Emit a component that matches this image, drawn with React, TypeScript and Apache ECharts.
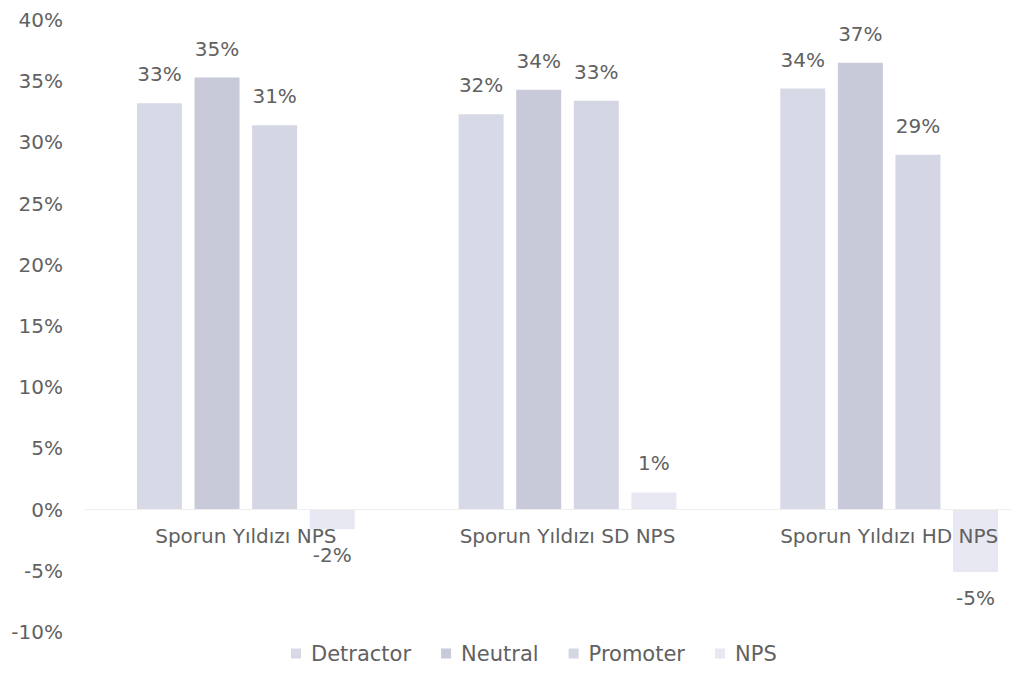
import React, { useEffect, useRef } from "react";
import * as echarts from "echarts";

const categories = ["Sporun Yıldızı NPS", "Sporun Yıldızı SD NPS", "Sporun Yıldızı HD NPS"];
const seriesNames = ["Detractor", "Neutral", "Promoter", "NPS"];
const detractor = [33.2, 32.3, 34.4];
const neutral = [35.3, 34.3, 36.5];
const promoter = [31.4, 33.4, 29.0];
const nps = [-1.6, 1.4, -5.1];
const yTicks = { min: -10, max: 40, interval: 5 };
const colors = ["#d8d9e6", "#c9cad9", "#d5d6e3", "#e8e8f3"];

const FONT = "DejaVu Sans";
const TEXT = "#616161";
const FS = 20;

export default function App() {
  const ref = useRef<HTMLDivElement>(null);
  useEffect(() => {
    if (!ref.current) return;
    const chart = echarts.init(ref.current, undefined, { renderer: "svg" });
    const values = [detractor, neutral, promoter, nps];
    chart.setOption({
      animation: false,
      textStyle: { fontFamily: FONT },
      grid: { left: 85, right: 0, top: 20, bottom: 66 },
      legend: {
        bottom: 29,
        left: 286,
        itemWidth: 10,
        itemHeight: 10,
        itemGap: 30,
        icon: "rect",
        textStyle: { color: TEXT, fontSize: 21, fontFamily: FONT, padding: [0, 0, 0, 5] },
        data: seriesNames,
      },
      xAxis: {
        type: "category",
        z: 10,
        data: categories,
        axisLine: { onZero: true, lineStyle: { color: "#efefef" } },
        axisTick: { show: false },
        axisLabel: { color: TEXT, fontSize: FS, margin: -106, fontFamily: FONT },
      },
      yAxis: {
        type: "value",
        min: yTicks.min,
        max: yTicks.max,
        interval: yTicks.interval,
        splitLine: { show: false },
        axisLine: { show: false },
        axisTick: { show: false },
        axisLabel: { color: TEXT, fontSize: FS, margin: 22, fontFamily: FONT, formatter: (v: number) => v + "%" },
      },
      series: seriesNames.map((name, i) => ({
        name,
        type: "bar",
        barWidth: 45,
        barGap: "28%",
        itemStyle: { color: colors[i] },
        data: values[i].map((v) => ({
          value: v,
          label: {
            show: true,
            position: v >= 0 ? "top" : "bottom",
            distance: v >= 0 ? 19 : 16,
            color: TEXT,
            fontSize: FS,
            fontFamily: FONT,
            formatter: () => Math.round(v) + "%",
          },
        })),
      })),
    });
    return () => chart.dispose();
  }, []);
  return (
    <div style={{ position: "absolute", left: 0, top: 0, width: 1011, height: 698, overflow: "hidden", background: "#fff" }}>
      <div ref={ref} style={{ width: 1050, height: 698 }} />
    </div>
  );
}
